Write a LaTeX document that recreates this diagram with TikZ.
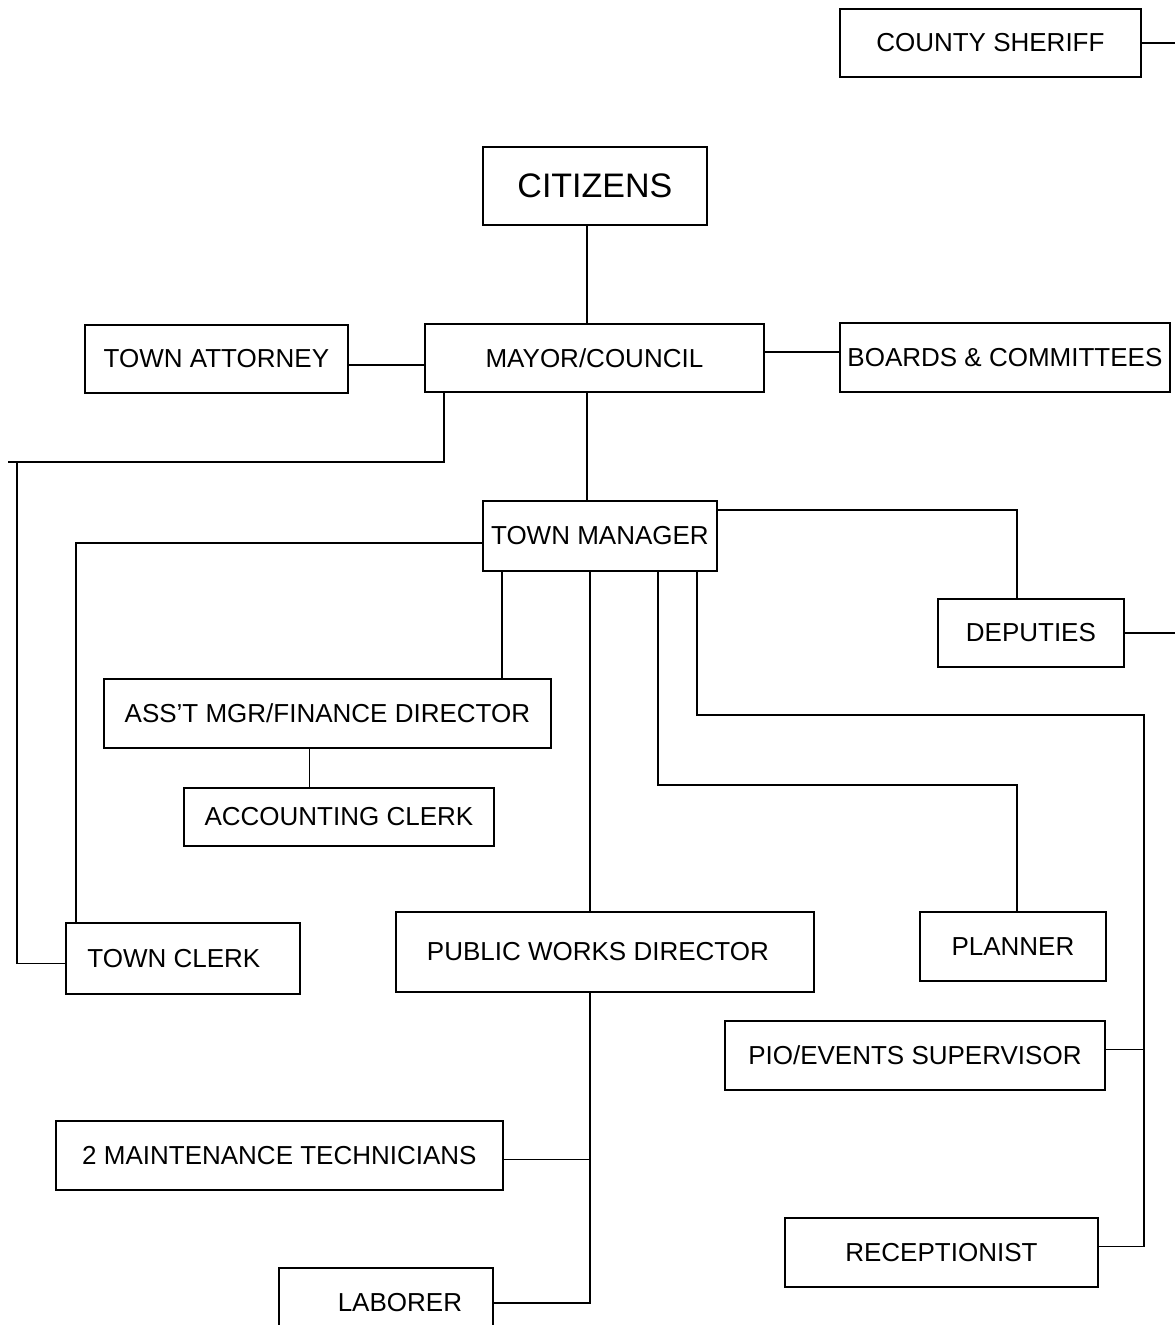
\documentclass[tikz,border=0pt]{standalone}
\usepackage{fontspec}
\setmainfont{Liberation Sans}
\tikzset{
  orgbox/.style={draw,anchor=north west,inner sep=0pt,font=\fontsize{26}{30}\selectfont},
}
\begin{document}
\begin{tikzpicture}[x=1pt,y=-1pt,line width=1.8pt,line cap=butt,line join=miter]
\useasboundingbox (0,0) rectangle (1175,1325);
\coordinate (edge) at (1175,0);
% boxes
\node[orgbox,minimum width=301pt,minimum height=68pt] (sheriff) at (839,8) {COUNTY SHERIFF};
\node[orgbox,minimum width=224pt,minimum height=78pt,font=\fontsize{34}{38}\selectfont] (cit) at (482,146) {CITIZENS};
\node[orgbox,minimum width=339pt,minimum height=68pt] (mayor) at (424,323) {MAYOR/COUNCIL};
\node[orgbox,minimum width=263pt,minimum height=68pt] (atty) at (84,324) {TOWN ATTORNEY};
\node[orgbox,minimum width=330pt,minimum height=69pt] (boards) at (839,322) {BOARDS \& COMMITTEES};
\node[orgbox,minimum width=234pt,minimum height=70pt] (tm) at (482,500) {TOWN MANAGER};
\node[orgbox,minimum width=186pt,minimum height=68pt] (dep) at (937,598) {DEPUTIES};
\node[orgbox,minimum width=447pt,minimum height=69pt] (asst) at (103,678) {ASS'T MGR/FINANCE DIRECTOR};
\node[orgbox,minimum width=310pt,minimum height=58pt] (acct) at (183,787) {ACCOUNTING CLERK};
\node[orgbox,minimum width=234pt,minimum height=71pt] (clerk) at (65,922) {TOWN CLERK\kern18pt};
\node[orgbox,minimum width=418pt,minimum height=80pt] (pw) at (395,911) {PUBLIC WORKS DIRECTOR\kern14pt};
\node[orgbox,minimum width=186pt,minimum height=69pt] (plan) at (919,911) {PLANNER};
\node[orgbox,minimum width=380pt,minimum height=69pt] (pio) at (724,1020) {PIO/EVENTS SUPERVISOR};
\node[orgbox,minimum width=447pt,minimum height=69pt] (maint) at (55,1120) {2 MAINTENANCE TECHNICIANS};
\node[orgbox,minimum width=313pt,minimum height=69pt] (recep) at (784,1217) {RECEPTIONIST};
\node[orgbox,minimum width=214pt,minimum height=70pt] (lab) at (278,1267) {\kern28pt LABORER};
% drop points under the town manager
\coordinate (dA) at ([xshift=20pt]tm.south west);
\coordinate (dB) at ([xshift=108pt]tm.south west);
\coordinate (dC) at ([xshift=176pt]tm.south west);
\coordinate (dD) at ([xshift=215pt]tm.south west);
\coordinate (mid) at ([xshift=163pt]mayor.south west);
\coordinate (leftcorner) at (17,462);
\coordinate (planbend) at (1017,785);
\coordinate (recbend) at (1144,715);
% connectors
\draw (sheriff.east) -- (sheriff.east -| edge);
\draw (mid |- cit.south) -- (mid |- mayor.north);
\draw ([yshift=-6pt]atty.east) -- ([yshift=-6pt]atty.east -| mayor.west);
\draw ([yshift=6pt]mayor.east) -- ([yshift=6pt]mayor.east -| boards.west);
\draw (mid) -- (mid |- tm.north);
\draw ([xshift=20pt]mayor.south west) |- ([xshift=-9pt]leftcorner);
\draw (leftcorner) |- ([yshift=-5pt]clerk.west);
\draw ([yshift=-7pt]tm.west) -| ([xshift=11pt]clerk.north west);
\draw (dA) -- (dA |- asst.north);
\draw ([xshift=-18pt]asst.south) -- ([xshift=-18pt]asst.south |- acct.north);
\draw ([yshift=-10pt]tm.north east) -| ([xshift=80pt]dep.north west);
\draw (dep.east) -- (dep.east -| edge);
\draw (dB) -- (dB |- pw.north);
\draw (dC) |- (planbend) -- (planbend |- plan.north);
\draw (dD) |- (recbend) |- ([yshift=6pt]recep.east);
\draw ([yshift=6pt]pio.east) -- ([yshift=6pt]pio.east -| recbend);
\draw (dB |- pw.south) |- (lab.east);
\draw ([yshift=-4pt]maint.east) -- ([yshift=-4pt]maint.east -| dB);
\end{tikzpicture}
\end{document}
